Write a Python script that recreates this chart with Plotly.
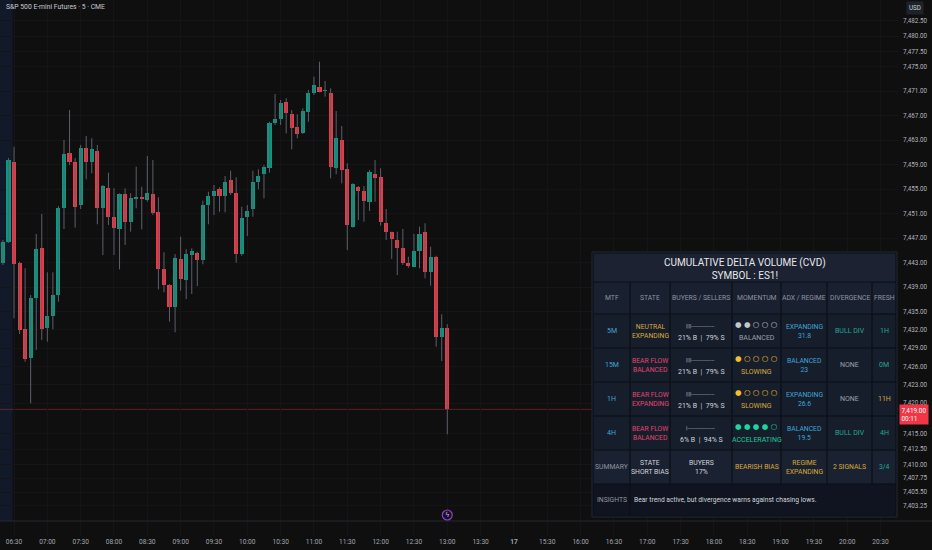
import plotly.graph_objects as go

# ---------------- data ----------------
times = []
h, m = 6, 20
for _ in range(81):
    times.append(f"{h:02d}:{m:02d}")
    m += 5
    if m == 60:
        h, m = h + 1, 0

opens = [7442.87, 7446.40, 7459.47, 7442.97, 7432.09, 7427.35, 7437.15, 7445.42, 7432.35, 7434.31,
         7437.69, 7451.96, 7460.94, 7459.47, 7452.40, 7461.66, 7459.47, 7461.22, 7451.96, 7455.23,
         7450.49, 7448.48, 7454.20, 7449.67, 7453.43, 7453.59, 7453.22, 7454.20, 7451.21, 7441.89,
         7439.33, 7435.78, 7443.58, 7440.14, 7444.23, 7444.60, 7443.41, 7452.40, 7453.92, 7454.96,
         7453.92, 7456.48, 7454.41, 7444.39, 7450.39, 7451.70, 7456.21, 7457.42, 7458.40, 7465.75,
         7466.45, 7469.28, 7467.27, 7465.19, 7464.11, 7467.64, 7470.78, 7471.73, 7471.03, 7470.75,
         7458.49, 7463.02, 7458.23, 7448.85, 7455.39, 7454.69, 7452.94, 7457.46, 7457.02, 7449.41,
         7447.94, 7446.68, 7445.42, 7442.97, 7442.32, 7444.88, 7447.94, 7441.40, 7443.95, 7430.78,
         7432.35]
highs = [7446.68, 7460.08, 7461.92, 7443.13, 7442.06, 7437.69, 7447.66, 7450.93, 7441.40, 7441.40,
         7452.24, 7463.02, 7467.92, 7460.08, 7462.20, 7463.67, 7463.30, 7462.20, 7455.67, 7457.68,
         7455.13, 7454.31, 7455.13, 7454.31, 7458.66, 7455.39, 7460.41, 7459.75, 7453.66, 7444.67,
         7439.49, 7444.39, 7447.22, 7445.16, 7445.32, 7444.77, 7453.10, 7454.57, 7455.67, 7455.29,
         7457.14, 7458.00, 7456.92, 7452.12, 7452.40, 7458.00, 7458.23, 7458.93, 7466.01, 7470.54,
         7469.56, 7469.83, 7467.92, 7467.22, 7468.20, 7471.19, 7473.36, 7475.81, 7472.66, 7471.47,
         7467.76, 7465.31, 7459.21, 7455.94, 7455.50, 7455.50, 7458.12, 7459.75, 7458.40, 7451.75,
         7448.04, 7448.04, 7448.48, 7443.95, 7447.66, 7448.85, 7449.41, 7445.58, 7444.10, 7434.54,
         7432.91]
lows = [7442.59, 7446.19, 7433.89, 7431.32, 7426.79, 7420.00, 7428.71, 7430.34, 7430.06, 7432.09,
        7436.60, 7448.48, 7458.93, 7448.69, 7451.75, 7456.60, 7457.58, 7449.25, 7444.23, 7449.13,
        7444.23, 7441.89, 7445.86, 7448.04, 7451.86, 7448.43, 7452.94, 7450.76, 7438.62, 7438.13,
        7433.33, 7431.60, 7438.40, 7437.04, 7437.86, 7439.16, 7442.71, 7449.25, 7450.76, 7451.30,
        7451.21, 7454.03, 7442.97, 7444.11, 7447.33, 7450.49, 7454.96, 7453.49, 7457.68, 7465.47,
        7465.47, 7464.11, 7461.50, 7463.30, 7464.00, 7466.01, 7470.37, 7470.81, 7470.10, 7456.76,
        7457.42, 7455.94, 7445.05, 7448.69, 7449.95, 7449.67, 7451.42, 7452.94, 7449.02, 7446.68,
        7443.58, 7440.96, 7442.59, 7442.15, 7442.22, 7442.06, 7440.42, 7439.21, 7429.25, 7426.91,
        7414.93]
closes = [7446.40, 7459.75, 7442.71, 7431.97, 7427.19, 7437.15, 7445.21, 7432.09, 7434.31, 7437.69,
          7451.96, 7460.73, 7459.47, 7452.12, 7461.66, 7459.47, 7461.50, 7451.96, 7455.50, 7450.49,
          7448.69, 7454.20, 7449.67, 7453.49, 7453.59, 7453.43, 7454.41, 7451.14, 7441.89, 7439.33,
          7435.78, 7443.69, 7440.31, 7444.39, 7444.93, 7443.41, 7452.40, 7453.87, 7454.69, 7453.92,
          7456.21, 7454.41, 7444.39, 7450.23, 7451.42, 7456.21, 7457.19, 7458.66, 7465.75, 7466.45,
          7469.11, 7467.48, 7465.03, 7464.00, 7467.81, 7470.78, 7472.01, 7470.91, 7471.03, 7458.66,
          7463.30, 7458.12, 7449.13, 7455.78, 7454.69, 7453.10, 7457.84, 7456.86, 7449.67, 7447.94,
          7446.79, 7445.42, 7442.87, 7442.48, 7444.88, 7447.66, 7441.40, 7443.95, 7430.78, 7432.25,
          7419.00]

last_price = 7419.00
last_timer = "00:11"

x_tick_labels = ["06:30", "07:00", "07:30", "08:00", "08:30", "09:00", "09:30", "10:00", "10:30",
                 "11:00", "11:30", "12:00", "12:30", "13:00", "13:30", "<b>17</b>", "15:30", "16:00",
                 "16:30", "17:00", "17:30", "18:00", "18:30", "19:00", "19:30", "20:00", "20:30"]
y_tick_values = [7482.5, 7480, 7477.5, 7475, 7471, 7467, 7463, 7459, 7455, 7451, 7447, 7443,
                 7439, 7435, 7432, 7429, 7426, 7423, 7420, 7415, 7412.5, 7410, 7407.75, 7405.5, 7403.25]

# table content
table_title = ["CUMULATIVE DELTA VOLUME (CVD)", "SYMBOL : ES1!"]
headers = ["MTF", "STATE", "BUYERS / SELLERS", "MOMENTUM", "ADX / REGIME", "DIVERGENCE", "FRESH"]
mtf = ["5M", "15M", "1H", "4H"]
state = [("NEUTRAL", "EXPANDING"), ("BEAR FLOW", "BALANCED"), ("BEAR FLOW", "EXPANDING"), ("BEAR FLOW", "BALANCED")]
buy_pct = [21, 21, 21, 6]
sell_pct = [79, 79, 79, 94]
momentum_filled = [2, 1, 1, 4]
momentum_label = ["BALANCED", "SLOWING", "SLOWING", "ACCELERATING"]
regime = ["EXPANDING", "BALANCED", "EXPANDING", "BALANCED"]
adx = [31.8, 23, 26.6, 19.5]
divergence = ["BULL DIV", "NONE", "NONE", "BULL DIV"]
fresh = ["1H", "0M", "11H", "4H"]
summary = ["SUMMARY", "STATE<br>SHORT BIAS", "BUYERS<br>17%", "BEARISH BIAS", "REGIME<br>EXPANDING", "2 SIGNALS", "3/4"]
insight_text = "Bear trend active, but divergence warns against chasing lows."

# ---------------- styling ----------------
UP, DN = "#089981", "#f23645"
BG = "#0f0f0f"
GOLD = "#d9a93a"
PINK = "#e2466f"
BLUE = "#3ea6da"
TEAL = "#22ab94"
GRAY = "#8f94a0"
WHITE = "#d1d4dc"
FONT = "Roboto"
FS = 7.0

W_PLOT, H_PLOT = 898, 536   # plot-area pixels


def slot(t):
    hh, mm = t.split(":")
    return (int(hh) - 6) * 60 + int(mm) - 30


xs = [slot(t) for t in times]

fig = go.Figure()

# wicks
wx, wy = [], []
for x, hi, lo in zip(xs, highs, lows):
    wx += [x, x, None]
    wy += [lo, hi, None]
fig.add_trace(go.Scatter(x=wx, y=wy, mode="lines", line=dict(color="#5d606b", width=1),
                         hoverinfo="skip", showlegend=False))

# bodies
heights, bases, cols = [], [], []
for o, c in zip(opens, closes):
    lo_b, hi_b = min(o, c), max(o, c)
    if hi_b - lo_b < 0.16:
        hi_b = lo_b + 0.16
    bases.append(lo_b)
    heights.append(hi_b - lo_b)
    cols.append(UP if c >= o else DN)
fig.add_trace(go.Bar(x=xs, y=heights, base=bases, width=3.7, marker=dict(color=cols, line=dict(width=0)),
                     showlegend=False, hoverinfo="skip"))

shapes = []
ann = []


def px(x):
    return x / W_PLOT


def py(y):
    return 1 - y / H_PLOT


def rect(x0, y0, x1, y1, fill, line=None):
    shapes.append(dict(type="rect", xref="paper", yref="paper", x0=px(x0), x1=px(x1), y0=py(y1), y1=py(y0),
                       fillcolor=fill, line=dict(width=1 if line else 0, color=line or fill), layer="above"))


def txt(x, y, text, color, size=FS, xanchor="center", family=FONT):
    ann.append(dict(xref="paper", yref="paper", x=px(x), y=py(y), text=text, showarrow=False,
                    xanchor=xanchor, yanchor="middle", align="center",
                    font=dict(color=color, size=size, family=family)))


# left session tint
shapes.append(dict(type="rect", xref="paper", yref="paper", x0=0, x1=px(12.5), y0=py(521), y1=1,
                   fillcolor="#121a2a", line=dict(width=0), layer="below"))
# last price line
shapes.append(dict(type="line", xref="paper", yref="y", x0=0, x1=1, y0=last_price, y1=last_price,
                   line=dict(color="rgba(242,54,69,0.35)", width=1), layer="below"))
# separator above time axis
shapes.append(dict(type="line", xref="paper", yref="paper", x0=0, x1=932 / W_PLOT, y0=py(521), y1=py(521),
                   line=dict(color="#26292f", width=1)))

# ---------------- table ----------------
cx = [593, 630, 670, 732, 781, 827, 872, 896]
ry = [253, 282, 314, 348, 382, 416, 450, 484, 516]
ccen = [(cx[i] + cx[i + 1]) / 2 for i in range(7)]
rect(592, 252, 897, 517, "#0b0f17", "#232936")
g = 0.6
rect(cx[0] + g, ry[0] + g, cx[7] - g, ry[1] - g, "#1c2231")
for i in range(7):
    rect(cx[i] + g, ry[1] + g, cx[i + 1] - g, ry[2] - g, "#192030")
    for r in range(4):
        rect(cx[i] + g, ry[2 + r] + g, cx[i + 1] - g, ry[3 + r] - g, "#161d2b")
    rect(cx[i] + g, ry[6] + g, cx[i + 1] - g, ry[7] - g, "#1a2131")
rect(cx[0] + g, ry[7] + g, cx[1] - g, ry[8] - g, "#0f1420")
rect(cx[1] + g, ry[7] + g, cx[7] - g, ry[8] - g, "#0f1420")

txt(745, 268.5, "<br>".join(table_title), "#e6e8ee", size=10)
for i, hd in enumerate(headers):
    txt(ccen[i], 298, hd, GRAY, size=6.8)

for r in range(4):
    yc = (ry[2 + r] + ry[3 + r]) / 2
    txt(ccen[0], yc, mtf[r], BLUE)
    sc = GOLD if state[r][0].startswith("NEUTRAL") else PINK
    txt(ccen[1], yc, "<br>".join(state[r]), sc, size=6.8)
    nfill = max(1, round(buy_pct[r] / 5))
    bar = "|" * nfill + "-" * (19 - nfill)
    txt(ccen[2] - 1, yc - 5.5, bar, "#b8bcc6", size=5.5)
    txt(ccen[2], yc + 6.5, f"{buy_pct[r]}% B  |  {sell_pct[r]}% S", WHITE)
    if momentum_label[r] == "BALANCED":
        mc, dc = "#9aa0ab", "#c2c6cf"
    elif momentum_label[r] == "SLOWING":
        mc, dc = GOLD, "#f0c030"
    else:
        mc, dc = "#1fc79a", "#1fd3a2"
    dots = " ".join(["●"] * momentum_filled[r] + ["○"] * (5 - momentum_filled[r]))
    txt(ccen[3], yc - 6.5, dots, dc, size=7.5, family="DejaVu Sans")
    txt(ccen[3], yc + 6.5, momentum_label[r], mc)
    txt(ccen[4], yc, f"{regime[r]}<br>{adx[r]:g}", BLUE, size=6.8)
    txt(ccen[5], yc, divergence[r], TEAL if divergence[r] != "NONE" else "#9ea2ac")
    txt(ccen[6], yc, fresh[r], GOLD if fresh[r] == "11H" else TEAL)

ys = (ry[6] + ry[7]) / 2
sum_colors = [GRAY, WHITE, WHITE, GOLD, GOLD, GOLD, TEAL]
for i, s in enumerate(summary):
    txt(ccen[i], ys, s, sum_colors[i], size=6.8)
yi = (ry[7] + ry[8]) / 2
txt(ccen[0], yi, "INSIGHTS", GRAY, size=6.8)
txt(cx[1] + 2, yi, insight_text, WHITE, size=6.7, xanchor="left")

# header / price labels
txt(4, 7, "S&P 500 E-mini Futures · 5 · CME", "#c8cbd3", size=6.8, xanchor="left")
ann.append(dict(xref="paper", yref="paper", x=915 / W_PLOT, y=py(7.5), text="USD", showarrow=False,
                font=dict(color="#c8cbd3", size=6.3, family=FONT), bgcolor="#1e222b", borderpad=2,
                xanchor="center", yanchor="middle"))
ann.append(dict(xref="paper", yref="y", x=1, xshift=1, y=last_price, yshift=-5,
                text=f"{last_price:,.2f}<br>{last_timer}", showarrow=False, align="left",
                font=dict(color="#ffffff", size=6.4, family=FONT), bgcolor=DN, borderpad=1.5,
                xanchor="left", yanchor="middle"))

# event icon
shapes.append(dict(type="circle", xref="x", yref="paper", xsizemode="pixel", ysizemode="pixel",
                   xanchor=390, yanchor=py(515), x0=-5, x1=5, y0=-5, y1=5,
                   line=dict(color="#8e44c9", width=1.2), fillcolor="#1a1024"))
ann.append(dict(xref="x", yref="paper", x=390, y=py(515), text="ϟ", showarrow=False,
                font=dict(color="#d9b8ff", size=7, family="DejaVu Sans"), xanchor="center", yanchor="middle"))

fig.update_layout(
    width=932, height=550,
    margin=dict(l=0, r=34, t=0, b=14, autoexpand=False),
    paper_bgcolor=BG, plot_bgcolor=BG,
    shapes=shapes, annotations=ann,
    bargap=0,
    showlegend=False,
    font=dict(family=FONT, color="#b2b5be"),
    xaxis=dict(range=[-12.6, 795.7], tickmode="array", tickvals=[i * 30 for i in range(len(x_tick_labels))],
               ticktext=x_tick_labels, showgrid=True, gridcolor="#151518", zeroline=False,
               tickfont=dict(size=6.6, color="#a3a6af"), ticks="", ticklabelstandoff=0,
               showline=False, fixedrange=True),
    yaxis=dict(range=[7398.31, 7485.90], side="right", tickmode="array", tickvals=y_tick_values,
               tickformat=",.2f", showgrid=True, gridcolor="#151518", zeroline=False,
               tickfont=dict(size=6.3, color="#b2b5be"), ticks="", ticklabelstandoff=4,
               showline=False, fixedrange=True),
)

fig.write_html("out.html", config={"displayModeBar": False},
               post_script="document.body.style.margin='0';document.body.style.background='#0f0f0f';")
